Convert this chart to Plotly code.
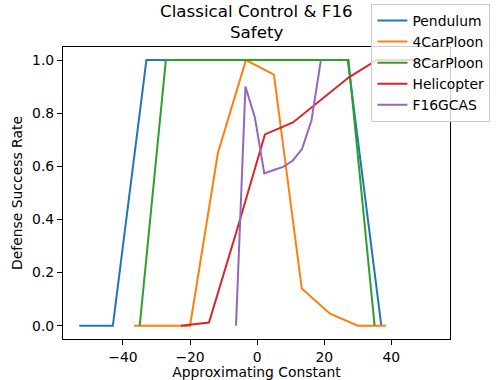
"""Defense success rate vs approximating constant, classical control & F16 safety."""

import plotly.graph_objects as go

FONT = 'DejaVu Sans'

series_names = ['Pendulum', '4CarPloon', '8CarPloon', 'Helicopter', 'F16GCAS']
series_colors = ['#1f77b4', '#ff7f0e', '#2ca02c', '#d62728', '#9467bd']

pendulum_x = [-53, -43, -33, -23, -13, -3, 7, 17, 27, 37]
pendulum_y = [0, 0, 1, 1, 1, 1, 1, 1, 1, 0]

car4_x = [-36.7, -28.36, -20.0, -11.7, -3.34, 5.0, 13.3, 21.7, 30.0, 38.36]
car4_y = [0, 0, 0, 0.65, 1.0, 0.945, 0.14, 0.045, 0, 0]

car8_x = [-35, -27.2, -19.4, -11.7, -3.9, 3.9, 11.7, 19.4, 27.2, 35]
car8_y = [0, 1, 1, 1, 1, 1, 1, 1, 1, 0]

heli_x = [-22.7, -14.36, -6.02, 2.32, 10.66, 19.0, 27.34, 35.68, 44.02, 52.36]
heli_y = [0, 0.012, 0.36, 0.72, 0.765, 0.85, 0.935, 1.0, 1.0, 1.0]

f16_x = [-6.3, -3.49, -0.68, 2.13, 4.94, 7.75, 10.56, 13.37, 16.18, 19.0]
f16_y = [0, 0.90, 0.784, 0.573, 0.586, 0.598, 0.621, 0.665, 0.772, 1.0]

x_tickvals = [-40, -20, 0, 20, 40]
y_tickvals = [0.0, 0.2, 0.4, 0.6, 0.8, 1.0]

title_lines = ['Classical Control & F16', 'Safety']

xs = [pendulum_x, car4_x, car8_x, heli_x, f16_x]
ys = [pendulum_y, car4_y, car8_y, heli_y, f16_y]

PLOT_H = 292  # plot area height in px, used to place the title lines

fig = go.Figure()
for name, color, x, y in zip(series_names, series_colors, xs, ys):
    fig.add_trace(go.Scatter(
        x=x, y=y, name=name, mode='lines',
        line=dict(color=color, width=2),
    ))

axis_common = dict(
    showline=True, linecolor='black', linewidth=1.1, mirror=True,
    showgrid=False, zeroline=False, automargin=False,
    ticks='outside', ticklen=5, tickwidth=1.1, tickcolor='black',
    tickfont=dict(family=FONT, size=13.9, color='black'),
)

# two-line title, placed as annotations so the line positions are exact
for i, line in enumerate(title_lines):
    fig.add_annotation(
        text=line, xref='paper', yref='paper', x=0.5, xanchor='center',
        y=1 + (35.5 - 20.5 * i) / PLOT_H, yanchor='middle', showarrow=False,
        font=dict(family=FONT, size=16.7, color='black'),
    )

fig.update_layout(
    width=500, height=380,
    margin=dict(l=63, r=50, t=47, b=41, autoexpand=False),
    paper_bgcolor='white', plot_bgcolor='white',
    font=dict(family=FONT, color='black'),
    legend=dict(
        x=0.797, xanchor='left', y=1 + 43 / PLOT_H, yanchor='top',
        bgcolor='rgba(255,255,255,0.8)', bordercolor='#cccccc', borderwidth=1,
        font=dict(family=FONT, size=13.9, color='black'),
        itemwidth=30, tracegroupgap=0,
    ),
    showlegend=True,
)
fig.update_xaxes(
    range=[-57.86, 57.47], tickvals=x_tickvals,
    tickformat='d',
    title=dict(text='Approximating Constant', standoff=4,
               font=dict(family=FONT, size=13.9, color='black')),
    **axis_common,
)
fig.update_yaxes(
    range=[-0.05, 1.049], tickvals=y_tickvals, tickformat='.1f',
    title=dict(text='Defense Success Rate', standoff=6,
               font=dict(family=FONT, size=13.9, color='black')),
    **axis_common,
)

# the default page has an 8px body margin; drop it so the figure sits at 0,0
fig.write_html(
    'out.html',
    config={'displayModeBar': False},
    post_script="document.body.style.margin='0';",
)
